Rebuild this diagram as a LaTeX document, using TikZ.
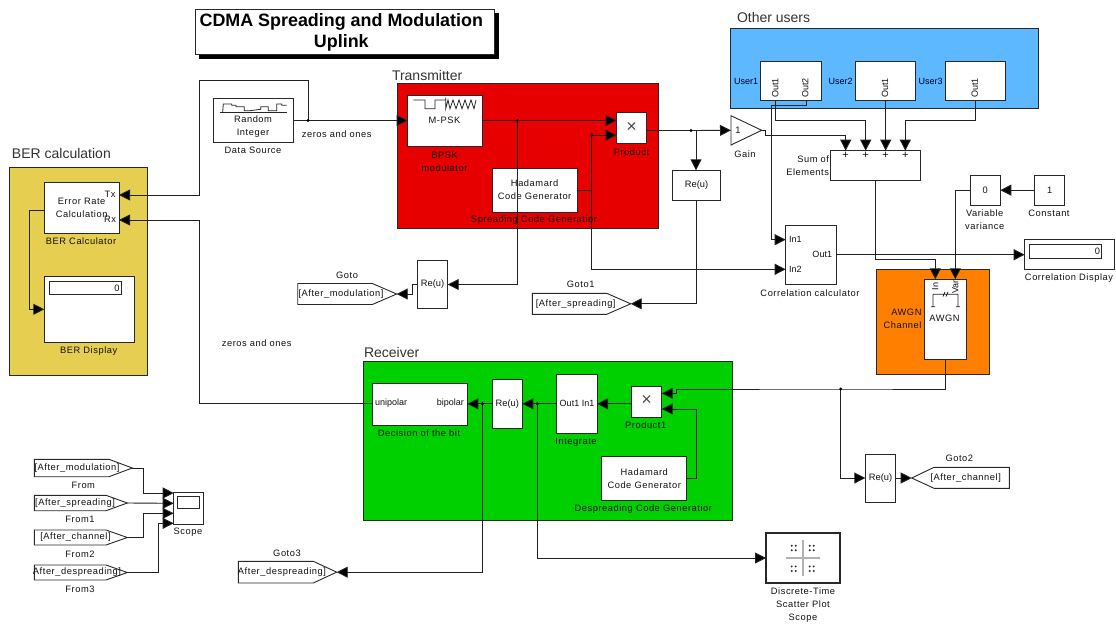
\documentclass[tikz,border=0pt]{standalone}
\usepackage{fontspec}
\setmainfont{Liberation Sans}
\newfontfamily\smf[LetterSpace=6]{Liberation Sans}
\newfontfamily\tightf{Liberation Sans}
\usetikzlibrary{arrows.meta,calc}
\definecolor{txc}{HTML}{111111}
\definecolor{wirec}{HTML}{222222}
\definecolor{boxc}{HTML}{282828}
\definecolor{berc}{HTML}{E6CF50}
\definecolor{txred}{HTML}{E60000}
\definecolor{usersc}{HTML}{5EB8FF}
\definecolor{awgnc}{HTML}{FF8000}
\definecolor{rxgreen}{HTML}{00D000}
\tikzset{
  x=1pt,y=-1pt,
  blockbox/.style={draw=boxc,line width=0.9pt,fill=white,inner sep=0pt,outer sep=0pt,align=center,text=txc,font=\smf\fontsize{9.3}{13}\selectfont},
  groupbox/.style={draw=boxc,line width=0.9pt,inner sep=0pt,outer sep=0pt},
  lbl/.style={inner sep=0pt,outer sep=0pt,align=center,text=txc,font=\smf\fontsize{9.3}{13}\selectfont},
  tightlbl/.style={inner sep=0pt,outer sep=0pt,align=center,text=txc,font=\tightf\fontsize{9}{12}\selectfont},
  biglbl/.style={inner sep=0pt,outer sep=0pt,anchor=west,text=black!80,font=\tightf\fontsize{14}{16}\selectfont},
  crosslbl/.style={inner sep=0pt,outer sep=0pt,text=black!70,font=\tightf\fontsize{18}{18}\selectfont},
  wire/.style={draw=wirec,line width=0.9pt},
  awire/.style={wire,-{Triangle[length=11pt,width=11pt,fill=black]}},
  jdot/.style={circle,fill=black,inner sep=0pt,minimum size=3.4pt},
  tag/.style={draw=boxc,line width=0.9pt,fill=white},
  icon/.style={draw=black!85,line width=0.8pt},
}
\newcommand{\blk}[7][]{%
  \pgfmathsetmacro\cxx{(#3+#5)/2}\pgfmathsetmacro\cyy{(#4+#6)/2}%
  \pgfmathsetmacro\www{#5-#3}\pgfmathsetmacro\hhh{#6-#4}%
  \node[blockbox,minimum width=\www pt,minimum height=\hhh pt,#1] (#2) at (\cxx,\cyy) {#7};}
\newcommand{\grp}[6]{%
  \pgfmathsetmacro\cxx{(#2+#4)/2}\pgfmathsetmacro\cyy{(#3+#5)/2}%
  \pgfmathsetmacro\www{#4-#2}\pgfmathsetmacro\hhh{#5-#3}%
  \node[groupbox,fill=#6,minimum width=\www pt,minimum height=\hhh pt] (#1) at (\cxx,\cyy) {};}
% name, x0, chamfer, tip, y0, y1, text centre x, text : right-pointing tag
\newcommand{\tagr}[8]{%
  \pgfmathsetmacro\cyy{(#5+#6)/2}%
  \draw[tag] (#2,#5) -- (#3,#5) -- (#4,\cyy) -- (#3,#6) -- (#2,#6) -- cycle;
  \coordinate (#1-tip) at (#4,\cyy);
  \node[lbl] (#1) at (#7,\cyy) {#8};}
\begin{document}
\begin{tikzpicture}
\useasboundingbox (0,0) rectangle (1116,627);
\fill[white] (0,0) rectangle (1116,627);

% ---------- title
\fill[black] (199,13) rectangle (498.5,58.5);
\node[draw=boxc,line width=0.9pt,fill=white,minimum width=298.5pt,minimum height=45pt,inner sep=0pt] (titlebox) at (344.7,31.5) {};
\node[inner sep=0pt,align=center,font=\tightf\bfseries\fontsize{17.9}{21}\selectfont] (title) at (341.3,32.5) {CDMA Spreading and Modulation\\Uplink};

% ---------- coloured groups
\grp{ber}{9.3}{167.7}{147.7}{375}{berc}
\grp{tx}{397}{83}{658.5}{228}{txred}
\grp{users}{730}{28.3}{1038}{108.7}{usersc}
\grp{awgngrp}{876.7}{269.7}{989.3}{374}{awgnc}
\grp{rx}{363.7}{361.3}{732.3}{520.3}{rxgreen}
\node[biglbl] (berlbl) at (12,153) {BER calculation};
\node[biglbl] (txlbl) at (392,75.5) {Transmitter};
\node[biglbl] (userslbl) at (737,17) {Other users};
\node[biglbl] (rxlbl) at (364,352) {Receiver};

% ---------- blocks
\blk{src}{213.5}{98.5}{293.5}{142}{}
\blk{mpsk}{407.7}{95}{482}{146}{}
\blk{prod}{616.7}{112.7}{646.7}{143}{}
\blk{hadtx}{492.3}{168.3}{577}{212}{Hadamard\\Code Generator}
\blk{reuone}{417.3}{260.7}{447.7}{308.3}{\tightf Re(u)}
\blk{reutwo}{672.7}{170.3}{720.3}{200.3}{\tightf Re(u)}
\blk{calc}{44.3}{182.3}{119}{233}{Error Rate\\Calculation}
\blk{berdisp}{44.3}{276.7}{134}{342.3}{}
\blk[fill=white]{berin}{49.3}{281.7}{121}{294.7}{}
\blk{userone}{760.7}{61}{821}{100.7}{}
\blk{usertwo}{855.3}{61}{915.7}{100.7}{}
\blk{userthree}{945.3}{61}{1005.3}{100.7}{}
\blk{sum}{830.7}{150.7}{920.3}{180.3}{}
\blk{varv}{970.3}{175.3}{1000.3}{205}{0}
\blk{const}{1034.7}{175.3}{1064.7}{205}{1}
\blk{corr}{785.7}{225}{836}{284.7}{}
\blk{cdisp}{1024.7}{239.7}{1114.7}{269.7}{}
\blk{cdin}{1029.3}{244.7}{1101.7}{258}{}
\blk{awgn}{924.7}{279.3}{966.3}{359.3}{}
\blk{dec}{372.3}{383}{467.3}{425}{}
\blk{reurx}{492.3}{379.3}{522.3}{428.7}{\tightf Re(u)}
\blk{integ}{556.7}{374}{597}{433.7}{}
\blk{prodrx}{631.7}{386}{661.7}{417}{}
\blk{hadrx}{601.7}{456.7}{686.7}{500.3}{Hadamard\\Code Generator}
\blk{reuch}{865.3}{454.3}{895.7}{502.3}{\tightf Re(u)}
\blk{scope}{173.7}{492.3}{203.7}{524}{}
\blk{scopein}{177.3}{496.3}{199.7}{508.3}{}
\blk[line width=1.8pt]{scatter}{766}{532.7}{840.3}{583.3}{}

% gain triangle
\draw[tag] (731,115.7) -- (761.7,130.3) -- (731,145) -- cycle;
\coordinate (gain-out) at (761.7,130.3);
\coordinate (gain-in) at (731,130.3);
\node[lbl] (gaintxt) at (738,130.3) {1};

% tags
\tagr{gotoa}{297.7}{372.3}{396.7}{283.5}{304.5}{341}{[After\_modulation]}
\tagr{gotob}{532.3}{606.7}{630.7}{293.3}{314.3}{575.7}{[After\_spreading]}
\tagr{gotod}{238.3}{313.3}{336.7}{561.3}{583}{282}{After\_despreading]}
\tagr{froma}{34.3}{109}{132.3}{459.3}{476.7}{77}{[After\_modulation]}
\tagr{fromb}{34.3}{106}{127.3}{495.3}{510.7}{75}{[After\_spreading]}
\tagr{fromc}{34.3}{106}{127.3}{530}{545}{75.5}{[After\_channel]}
\tagr{fromd}{34.3}{106}{127.3}{565}{580}{77}{After\_despreading]}
% left-pointing tag
\draw[tag] (1009.3,467.3) -- (934,467.3) -- (911.7,478) -- (934,488.3) -- (1009.3,488.3) -- cycle;
\coordinate (gotoc-tip) at (911.7,478);
\node[lbl] (gotoc) at (965.7,478) {[After\_channel]};

% ---------- port and junction coordinates
\coordinate (j-src) at (308,120.5);
\coordinate (mpsk-in) at (407.7,120.5);
\coordinate (mpsk-out) at (482,120.5);
\coordinate (j-mod) at (517.5,120.5);
\coordinate (prod-a) at (616.7,120.5);
\coordinate (prod-b) at (616.7,135.2);
\coordinate (j-code) at (591.7,135.2);
\coordinate (prod-out) at (646.7,130.5);
\coordinate (j-prod) at (691,130.5);
\coordinate (t-prod) at (696,130.5);
\coordinate (had-out) at (577,190.3);
\coordinate (bend-a) at (591.7,190.3);
\coordinate (corr-in1) at (785.7,239.7);
\coordinate (corr-in2) at (785.7,269.3);
\coordinate (corr-out) at (836,254.7);
\coordinate (cdisp-in) at (1024.7,254.7);
\coordinate (calc-tx) at (119,195);
\coordinate (calc-rx) at (119,220);
\coordinate (calc-out) at (44.3,210);
\coordinate (berdisp-in) at (44.3,309.3);
\coordinate (sum-a) at (845.7,150.7);
\coordinate (sum-b) at (865.7,150.7);
\coordinate (sum-c) at (885.7,150.7);
\coordinate (sum-d) at (905.3,150.7);
\coordinate (sum-out) at (875.7,180.3);
\coordinate (awgn-in) at (935.3,279.3);
\coordinate (awgn-var) at (955.3,279.3);
\coordinate (awgn-out) at (945.3,359.3);
\coordinate (u1-a) at (775.7,100.7);
\coordinate (u1-b) at (806,100.7);
\coordinate (u2-a) at (885.7,100.7);
\coordinate (u3-a) at (975.3,100.7);
\coordinate (j-ch) at (840.7,389);
\coordinate (prx-a) at (661.7,393.3);
\coordinate (prx-b) at (661.7,409);
\coordinate (prx-out) at (631.7,403.8);
\coordinate (int-out) at (597,403.8);
\coordinate (int-in) at (556.7,403.8);
\coordinate (reurx-r) at (522.3,403.8);
\coordinate (reurx-l) at (492.3,403.8);
\coordinate (dec-r) at (467.3,403.8);
\coordinate (dec-l) at (372.3,403.8);
\coordinate (j-bit) at (482.3,403.8);
\coordinate (j-soft) at (537.3,403.8);
\coordinate (hadrx-out) at (686.7,478);
\coordinate (scope-a) at (173.7,493);
\coordinate (scope-b) at (173.7,503.3);
\coordinate (scope-c) at (173.7,513.3);
\coordinate (scope-d) at (173.7,523.3);
\coordinate (reuch-in) at (865.3,478);
\coordinate (reuch-out) at (895.7,478);

% ---------- connectors
\draw[awire] (src.east |- j-src) -- (mpsk-in);
\draw[awire] (j-src) -- (308,80.7) -- (199,80.7) -- (199,195) -- (calc-tx);
\draw[awire] (dec-l) -- (199,403.8) -- (199,220) -- (calc-rx);
\draw[awire] (calc-out) -- (29.5,210) -- (29.5,309.3) -- (berdisp-in);
\draw[awire] (mpsk-out) -- (prod-a);
\draw[awire] (j-mod) |- (reuone.east);
\draw[awire] (reuone.west) -- (412.7,284.5) -- (412.7,294) -- (gotoa-tip);
\draw[awire] (j-code) -- (prod-b);
\draw[wire] (had-out) -- (bend-a);
\draw[awire] (j-code) |- (corr-in2);
\draw[wire] (prod-out) -- (j-prod);
\draw[awire] (j-prod) -- (gain-in);
\draw[awire] (t-prod) -- (reutwo.north -| t-prod);
\draw[awire] (reutwo.south -| t-prod) |- (gotob-tip);
\draw[awire] (gain-out) -- (765.7,130.3) -- (765.7,135.3) -| (sum-a);
\draw[awire] (u1-a) |- (775.7,120.3) -| (sum-b);
\draw[awire] (u2-a) -- (sum-c);
\draw[awire] (u3-a) |- (975.3,120.3) -| (sum-d);
\draw[awire] (u1-b) |- (771,105.7) |- (corr-in1);
\draw[awire] (sum-out) |- (875.7,259.3) -| (awgn-in);
\draw[awire] (varv.west) -| (awgn-var);
\draw[awire] (const.west) -- (varv.east);
\draw[awire] (corr-out) -- (cdisp-in);
\draw[awire] (awgn-out) |- (j-ch) -- (676.7,389) |- (prx-a);
\draw[awire] (j-ch) |- (reuch-in);
\draw[awire] (reuch-out) -- (gotoc-tip);
\draw[awire] (hadrx-out) -- (696.7,478) |- (prx-b);
\draw[awire] (prx-out) -- (int-out);
\draw[awire] (int-in) -- (reurx-r);
\draw[awire] (reurx-l) -- (dec-r);
\draw[awire] (j-bit) |- (gotod-tip);
\draw[awire] (j-soft) |- (scatter.west);
\draw[awire] (froma-tip) -- (143.7,468) |- (scope-a);
\draw[awire] (fromb-tip) -- (scope-b);
\draw[awire] (fromc-tip) -- (143.7,537.5) |- (scope-c);
\draw[awire] (fromd-tip) -- (158.7,572.5) |- (scope-d);
\foreach \j in {j-src,j-mod,j-code,j-prod,j-ch,j-bit,j-soft}
  \node[jdot] at (\j) {};

% ---------- icons
\draw[icon] (220,112) -- (286.7,112);
\draw[icon] (222.7,112) -- (223.3,104) -- (231.7,104) -- (231.7,105.3) -- (236,105.3) -- (236,106.7) -- (244.3,106.7) -- (244.3,110.7) -- (250,110.7) -- (260.7,109.3) -- (260.7,106.7) -- (268.3,106.7) -- (268.3,110.7) -- (276.7,110.7) -- (276.7,104) -- (281.7,104) -- (281.7,105.3) -- (286.7,105.3);
\draw[icon] (413.3,100) -- (425,100) -- (425,108.7) -- (435,108.7) -- (435,100) -- (445.7,100) (445.7,97.5) -- (445.7,108.7) -- (448,100) -- (450,108.7) -- (453,100) -- (456,108.7) -- (459,100) -- (462,108.7) -- (465,100) -- (468,108.7) -- (471,100) -- (474,108.7) -- (476,100);
\draw[icon] (933,294.3) -- (958,294.3) (933,294.3) -- (933,306.7) (958,294.3) -- (958,306.7) (931,306.7) -- (935,306.7) (956,306.7) -- (960,306.7) (943,296.5) -- (945,292) (946,296.5) -- (948,292);
% scatter icon
\draw[black!30,line width=1.2pt] (786,558) -- (820,558) (803,540) -- (803,576);
\foreach \gx in {793.7,811.7}\foreach \gy in {548,568.7}\foreach \dx in {-2,2}\foreach \dy in {-2.3,2.3}
  \fill[black!80] (\gx+\dx,\gy+\dy) circle (1.1pt);

% ---------- inner block texts
\node[lbl] (srctxt) at (253,126.5) {Random\\Integer};
\node[lbl] (mpsktxt) at (444.5,120) {M-PSK};
\node[crosslbl] (prodx) at (631.7,127.5) {×};
\node[crosslbl] (prodrxx) at (646.7,400.5) {×};
\node[lbl] (caltx) at (110,194.7) {Tx};
\node[lbl] (calrx) at (110,219.7) {Rx};
\node[lbl,anchor=east] at (cdin.east) {0\,};
\node[lbl,anchor=east] at (berin.east) {0\,};
\node[tightlbl,anchor=west] at (375,403.5) {unipolar};
\node[tightlbl,anchor=east] at (464,403.5) {bipolar};
\node[tightlbl] at (577,403.5) {Out1 In1};
\node[tightlbl,anchor=west] at (789,239) {In1};
\node[tightlbl,anchor=west] at (789,269) {In2};
\node[tightlbl,anchor=east] at (832,254) {Out1};
\node[tightlbl,rotate=90] at (775.3,88) {Out1};
\node[tightlbl,rotate=90] at (805.3,88) {Out2};
\node[tightlbl,rotate=90] at (885,88) {Out1};
\node[tightlbl,rotate=90] at (974.7,88) {Out1};
\node[tightlbl,text=black!85!blue,anchor=east] at (758,81) {User1};
\node[tightlbl,text=black!85!blue,anchor=east] at (852.5,81) {User2};
\node[tightlbl,text=black!85!blue,anchor=east] at (942.5,81) {User3};
\foreach \s in {sum-a,sum-b,sum-c,sum-d}
  \node[tightlbl,font=\tightf\fontsize{11}{12}\selectfont] at ($(\s)+(0,5)$) {+};
\node[tightlbl,rotate=90] at (935.3,286.7) {In};
\node[tightlbl,rotate=90] at (955.3,286.7) {Var};
\node[lbl] at (944.5,318) {AWGN};

% ---------- labels
\node[lbl] at (253,150.5) {Data Source};
\node[lbl] at (336.7,134) {zeros and ones};
\node[lbl] at (256.7,343) {zeros and ones};
\node[lbl] at (81,241) {BER Calculator};
\node[lbl] at (88.7,351) {BER Display};
\node[lbl] at (444.5,161.5) {BPSK\\modulator};
\node[lbl] at (631.5,152) {Product};
\node[lbl] at (534,220.5) {Spreading Code Generatior};
\node[lbl] at (745,153.7) {Gain};
\node[lbl] at (347,275) {Goto};
\node[lbl] at (580.7,284.5) {Goto1};
\node[lbl] at (959.3,458.7) {Goto2};
\node[lbl] at (287,553.3) {Goto3};
\node[lbl,anchor=east,align=right] at (829,166) {Sum of\\Elements};
\node[lbl] at (984.7,220) {Variable\\variance};
\node[lbl] at (1049,213.5) {Constant};
\node[lbl] at (810,292.7) {Correlation calculator};
\node[lbl] at (1069,278) {Correlation Display};
\node[lbl,anchor=east,align=right] at (921.5,319) {AWGN\\Channel};
\node[lbl] at (419,433) {Decision of the bit};
\node[lbl] at (576,442) {Integrate};
\node[lbl] at (645.7,424.7) {Product1};
\node[lbl] at (643.3,508.7) {Despreading Code Generatior};
\node[lbl] at (83.3,485.7) {From};
\node[lbl] at (80,519.7) {From1};
\node[lbl] at (80,554.3) {From2};
\node[lbl] at (80,589) {From3};
\node[lbl] at (188,532.7) {Scope};
\node[lbl] at (803,605) {Discrete-Time\\Scatter Plot\\Scope};
\end{tikzpicture}
\end{document}
